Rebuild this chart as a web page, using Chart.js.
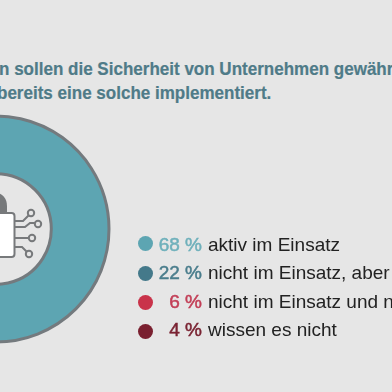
<!DOCTYPE html>
<html lang="de">
<head>
<meta charset="utf-8">
<title>Sicherheit</title>
<script src="https://cdn.jsdelivr.net/npm/chart.js@4"></script>
<style>
html, body { margin: 0; padding: 0; }
body { width: 392px; height: 392px; overflow: hidden; position: relative; background: #e6e6e6; font-family: "Liberation Sans", sans-serif; }
#donut { position: absolute; left: -124px; top: 109px; }
#icon { position: absolute; left: 0; top: 170px; }
.title { position: absolute; white-space: nowrap; font-family: "Liberation Sans Narrow", "Liberation Sans", sans-serif; font-weight: bold; font-size: 18.5px; color: #4f7b88; line-height: 20px; -webkit-text-stroke: 0.2px #4f7b88; transform: scaleX(0.92); transform-origin: left center; }
.row { position: absolute; left: 0; width: 392px; height: 24px; line-height: 24px; white-space: nowrap; overflow: hidden; font-size: 19px; color: #222; }
.dot { position: absolute; left: 138px; width: 15px; height: 15px; border-radius: 50%; }
.pct { position: absolute; left: 150px; width: 52px; text-align: right; -webkit-text-stroke: 0.5px currentColor; }
.txt { position: absolute; left: 208px; }
</style>
</head>
<body>
<div class="title" style="left:-1px;top:59px">n sollen die Sicherheit von Unternehmen gewähr</div>
<div class="title" style="left:-3px;top:83px">bereits eine solche implementiert.</div>
<canvas id="donut" width="240" height="240"></canvas>
<svg id="icon" width="60" height="110" fill="none" stroke="#77797b" stroke-width="2">
  <path d="M-14 44 V36 A10.5 13 0 0 1 7 36 V44 Z" fill="#77797b" stroke="none"/>
  <rect x="-20" y="43" width="34.5" height="44" rx="3" fill="#fff"/>
  <path d="M15 51 H23 L29 45"/>
  <path d="M15 57 H25 L30 53 H35"/>
  <path d="M15 68 H29"/>
  <path d="M15 77 H22 L27 82"/>
  <circle cx="31" cy="43" r="3.2" fill="#e6e6e6"/>
  <circle cx="38" cy="54" r="3.2" fill="#e6e6e6"/>
  <circle cx="32" cy="68" r="3.2" fill="#e6e6e6"/>
  <circle cx="29" cy="84" r="3.2" fill="#e6e6e6"/>
</svg>
<div id="legend"></div>
<script>
// Survey shares, only the first slice is in view
const percentages = [68, 22, 6, 4];
const labels = ['aktiv im Einsatz', 'nicht im Einsatz, aber', 'nicht im Einsatz und n', 'wissen es nicht'];
const sliceColors = ['#5da5b2', '#44798a', '#c9334a', '#7a2030'];
const pctColors = ['#6fb0bb', '#4a7d8c', '#c23f57', '#7a2433'];
const rowTops = [233, 261, 290, 318];
const dotTops = [3, 5, 5, 6];

document.addEventListener('DOMContentLoaded', () => {
    new Chart(document.getElementById('donut'), {
        type: 'doughnut',
        data: {
            labels: labels,
            datasets: [{
                data: percentages,
                backgroundColor: sliceColors,
                borderColor: '#747a7e',
                borderWidth: 3
            }]
        },
        options: {
            responsive: false,
            animation: false,
            radius: 113,
            cutout: 58,
            rotation: -32.4,
            plugins: {
                legend: { display: false },
                tooltip: { enabled: false }
            }
        }
    });

    // Legend rows
    document.getElementById('legend').innerHTML = labels.map((label, i) => `
        <div class="row" style="top:${rowTops[i]}px">
            <span class="dot" style="top:${dotTops[i]}px;background:${sliceColors[i]}"></span>
            <span class="pct" style="color:${pctColors[i]}">${percentages[i]} %</span>
            <span class="txt">${label}</span>
        </div>
    `).join('');
});
</script>
</body>
</html>
